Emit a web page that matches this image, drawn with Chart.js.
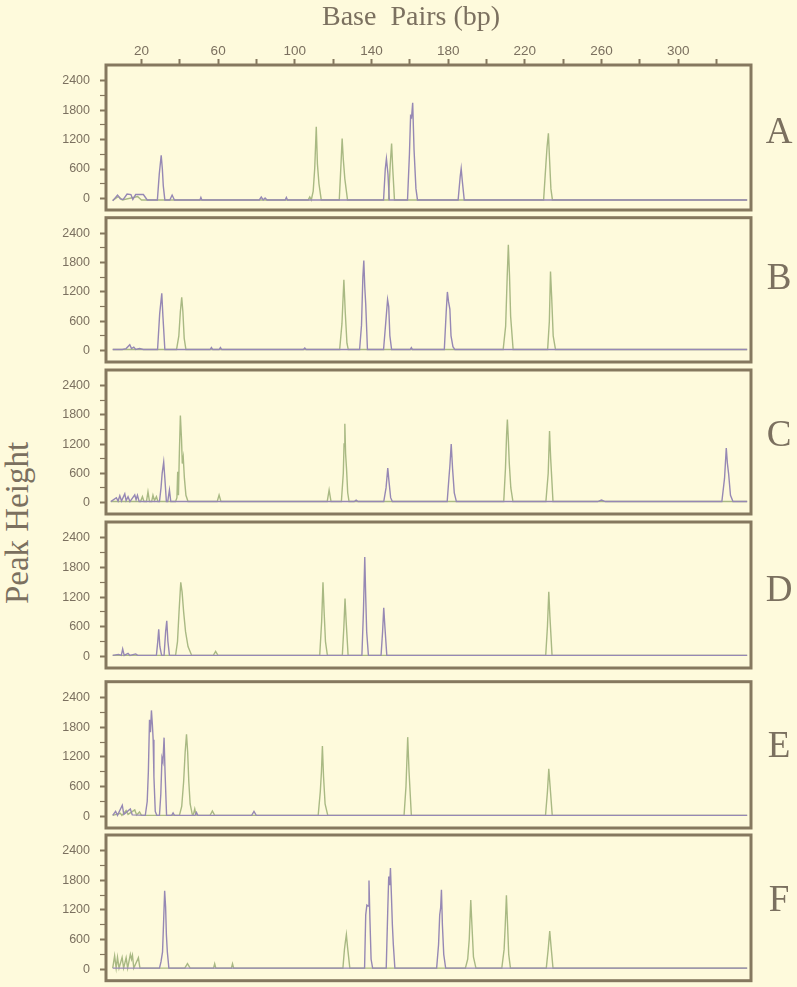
<!DOCTYPE html>
<html>
<head>
<meta charset="utf-8">
<title>Peak Height vs Base Pairs</title>
<script src="https://cdn.jsdelivr.net/npm/chart.js@4.4.0/dist/chart.umd.min.js"></script>
<style>
  html, body { margin: 0; padding: 0; background: #fefadc; }
  #page { position: relative; width: 797px; height: 987px; overflow: hidden; background: #fefadc; }
  #page canvas { position: absolute; left: 0; }
  .letter {
    position: absolute; left: 749px; width: 60px; text-align: center;
    font-family: 'Liberation Serif', 'DejaVu Serif', serif; font-size: 37px;
    line-height: 1; color: #7b705f;
  }
  #yTitle {
    position: absolute; left: 17px; top: 523px; white-space: nowrap;
    transform: translate(-50%, -50%) rotate(-90deg);
    font-family: 'Liberation Serif', 'DejaVu Serif', serif; font-size: 33px;
    line-height: 1; color: #7b705f;
  }
</style>
</head>
<body>
<div id="page">
  <div id="yTitle">Peak Height</div>
</div>

<script>
// axis ticks (bp on top, peak height on the left)
const xTickValues = [20, 40, 60, 80, 100, 120, 140, 160, 180, 200, 220, 240, 260, 280, 300, 320];
const xTickLabels = [20, 60, 100, 140, 180, 220, 260, 300];
const yTickValues = [0, 300, 600, 900, 1200, 1500, 1800, 2100, 2400];
const yTickLabels = [0, 600, 1200, 1800, 2400];
const panelLetters = ['A', 'B', 'C', 'D', 'E', 'F'];

// traces: [base pairs, peak height]
const purpleA = [[5,-50],[7.5,70],[9,-10],[10.5,-20],[12.5,90],[14.5,80],[15.5,-20],[17,80],[21,80],[23,-30],[28.3,-30],[29.3,500],[30.3,880],[30.9,600],[31.4,250],[32.2,-30],[34.8,-30],[36,70],[37.2,-30],[50.5,-30],[51,20],[51.5,-30],[81.5,-30],[82.5,30],[83.5,-30],[84.5,10],[85.5,-30],[95,-30],[95.6,20],[96.2,-30],[146.3,-30],[147.2,600],[147.8,810],[148.6,500],[149.3,-30],[158.8,-30],[159.8,900],[160.4,1680],[160.9,1650],[161.5,1950],[162.2,1000],[163.2,200],[164,-30],[185.2,-30],[186.3,450],[186.8,610],[187.4,350],[188.4,-30],[336,-30]];
const greenA = [[5,-40],[8,40],[10,-30],[18,40],[20,-30],[107,-30],[107.8,30],[108.6,-30],[109.6,150],[110.4,620],[111.2,1460],[111.8,700],[112.6,300],[113.8,-30],[123.2,-30],[124.1,700],[124.7,1220],[125.3,800],[126.1,400],[127.5,-30],[148.9,-30],[149.8,700],[150.5,1120],[151.1,600],[152,-30],[229.8,-30],[231,700],[231.6,1050],[232.3,1330],[232.9,800],[233.6,200],[234.4,-30],[336,-30]];

const purpleB = [[5,20],[10,20],[12,40],[13.9,120],[14.8,40],[16,70],[17,20],[19,40],[21,20],[28.4,20],[29.5,750],[30.6,1170],[31.2,700],[32.2,20],[55.8,20],[56.5,60],[57.2,20],[60.5,20],[61.2,60],[61.9,20],[104.5,20],[105.2,50],[105.9,20],[133.8,20],[134.8,520],[135.5,1500],[136,1845],[136.5,1300],[137,950],[137.9,20],[146.3,20],[147.4,550],[148.4,1045],[149,900],[149.6,300],[150.5,20],[160.2,20],[160.8,60],[161.4,20],[178,20],[179,800],[179.6,1200],[180.2,1000],[180.9,850],[181.5,300],[182.5,80],[183.5,20],[336,20]];
const greenB = [[5,20],[38.3,20],[39.5,300],[40.3,800],[41,1090],[41.6,800],[42.3,250],[43.2,20],[123.4,20],[124.6,550],[125.6,1450],[126.3,800],[127.2,150],[127.9,20],[208.7,20],[210,500],[210.8,1500],[211.4,2165],[212,1550],[212.6,700],[213.9,20],[231.9,20],[232.8,600],[233.4,1620],[234,1100],[234.8,300],[236,20],[336,20]];

const purpleC = [[4,20],[6.9,100],[7.8,30],[8.7,140],[9.6,30],[11.3,180],[12,40],[13,120],[14,20],[16.5,160],[17.2,60],[17.9,150],[18.8,20],[29.4,20],[30.2,300],[30.8,600],[31.6,830],[32.2,500],[33,20],[33.7,20],[34.6,256],[35.3,20],[131,20],[132,50],[133,20],[146.4,20],[147.6,300],[148.5,707],[149.1,450],[150,100],[150.9,20],[179.5,20],[180.4,500],[180.9,750],[181.6,1200],[182.3,700],[183.2,200],[184.3,20],[258,20],[260,50],[262,20],[322.8,20],[324.2,500],[325.1,1120],[325.7,800],[326.3,600],[327.3,150],[328.6,20],[336,20]];
const greenC = [[4,20],[19.5,20],[20.5,120],[21.3,20],[22.6,20],[23.4,220],[24.2,20],[25.3,20],[26,150],[26.8,40],[27.8,120],[28.6,20],[37.8,20],[38.5,100],[38.9,630],[39.3,150],[39.7,900],[40.3,1785],[40.9,1300],[41.3,800],[41.8,930],[42.4,500],[43.2,150],[44.3,20],[59.5,20],[60.5,155],[61.5,20],[116.9,20],[117.9,256],[118.9,20],[124.3,20],[125.3,600],[125.7,1200],[126.1,1615],[126.5,1000],[127,680],[127.6,200],[128.3,20],[209,20],[209.9,700],[210.5,1400],[210.9,1705],[211.4,1300],[211.9,800],[212.7,300],[213.8,20],[231,20],[232.2,600],[232.9,1470],[233.5,900],[234.7,20],[336,20]];

const purpleD = [[5,20],[8,40],[9.5,20],[10.2,150],[11,20],[13,60],[14,20],[17,50],[18,20],[27.8,20],[28.5,300],[29,550],[29.6,200],[30.5,20],[31.8,20],[32.6,500],[33.2,720],[33.8,300],[34.6,20],[135,20],[135.8,900],[136.5,2010],[137,1200],[137.5,500],[138.4,20],[145,20],[145.8,500],[146.4,985],[147,600],[148,20],[336,20]];
const greenD = [[5,20],[37.8,20],[38.8,300],[39.6,900],[40.5,1500],[41.2,1300],[42,900],[43,500],[44.3,200],[46.2,20],[57.5,20],[58.7,100],[59.9,20],[113,20],[114,700],[114.7,1500],[115.3,900],[116,300],[117,20],[124.8,20],[125.6,600],[126.2,1170],[126.8,700],[127.8,20],[230.9,20],[231.8,600],[232.5,1310],[233.1,800],[234.2,20],[336,20]];

const purpleE = [[5,20],[6.5,100],[7.5,20],[10,225],[10.8,40],[14.2,150],[15.2,30],[22,20],[23,300],[23.6,900],[24.2,1950],[24.7,1700],[25.2,2140],[25.7,1850],[26.1,1550],[26.5,800],[27.2,100],[28,20],[29.4,20],[30.1,450],[30.7,1180],[31.2,1100],[31.8,1590],[32.3,900],[33.1,20],[35.8,20],[36.5,70],[37.2,20],[48,20],[48.7,80],[49.4,20],[77.5,20],[78.7,100],[79.9,20],[336,20]];
const greenE = [[5,20],[9,60],[9.8,20],[12,120],[13,40],[16.5,130],[17.5,30],[19,90],[20,20],[39.8,20],[41,200],[42,700],[42.8,1300],[43.5,1660],[44.1,1300],[44.7,700],[45.4,250],[46.6,20],[47,20],[47.8,150],[48.5,20],[55.8,20],[57,110],[58.2,20],[112.2,20],[113.3,500],[113.9,900],[114.4,1420],[115,800],[115.8,250],[117.2,20],[157,20],[158,600],[158.9,1600],[159.6,900],[160.8,20],[230.8,20],[231.8,500],[232.5,960],[233.2,600],[234.3,20],[336,20]];

const purpleF = [[5,20],[29.4,20],[30.2,150],[31,350],[31.5,900],[32.1,1590],[32.6,1260],[33,700],[33.5,350],[34.3,20],[136.4,20],[137,1100],[137.6,1300],[138.2,1280],[138.7,1795],[139.2,1000],[139.8,200],[140.6,20],[147.7,20],[148.5,1200],[149,1880],[149.5,1700],[149.9,2050],[150.4,1500],[150.9,900],[151.4,500],[152.2,20],[174,20],[175,500],[175.6,1100],[176.1,1250],[176.5,1607],[177,900],[177.7,300],[178.7,20],[336,20]];
const greenF = [[5,20],[6,270],[6.8,20],[7.5,240],[8.3,20],[9.9,240],[10.7,20],[12,230],[12.8,20],[14.2,300],[14.8,200],[15.3,280],[16,20],[18.4,230],[19.2,20],[42.6,20],[44,110],[45.4,20],[57.6,20],[58.2,110],[58.8,20],[66.9,20],[67.5,110],[68.1,20],[125.1,20],[125.9,400],[126.4,560],[126.9,700],[127.5,450],[128.7,20],[189,20],[190.2,200],[191,600],[191.8,1400],[192.4,900],[193.2,250],[194.5,20],[208,20],[209.2,400],[209.8,900],[210.4,1500],[211,900],[211.6,300],[212.5,20],[231.2,20],[232.2,400],[233,770],[233.7,450],[234.7,20],[336,20]];

const traces = [
  [purpleA, greenA], [purpleB, greenB], [purpleC, greenC],
  [purpleD, greenD], [purpleE, greenE], [purpleF, greenF]
];

// layout of the six stacked panels (page pixels)
const panelBoxes = [
  { top: 65, bottom: 210, letterY: 131 },
  { top: 217.7, bottom: 362, letterY: 276.3 },
  { top: 370, bottom: 514, letterY: 433.3 },
  { top: 522, bottom: 668, letterY: 589 },
  { top: 681.7, bottom: 828, letterY: 745 },
  { top: 835, bottom: 980.7, letterY: 899 }
];
const pageWidth = 797;
const plotLeft = 106;
const plotRight = 751;

const textColor = '#7b705f';
const frameColor = '#85785f';
const purpleColor = '#9688b4';
const greenColor = '#a9b983';

const framePlugin = {
  id: 'panelFrame',
  afterDraw(chart) {
    const { ctx, chartArea } = chart;
    ctx.save();
    ctx.strokeStyle = frameColor;
    ctx.lineWidth = 3;
    ctx.strokeRect(chartArea.left, chartArea.top,
      chartArea.right - chartArea.left, chartArea.bottom - chartArea.top);
    ctx.restore();
  }
};

const page = document.getElementById('page');

function toPoints(pairs) {
  return pairs.map(([bp, height]) => ({ x: bp, y: height }));
}

// the panels are placed by hand, so scales must not ask for extra room
function noScalePadding(scale) {
  scale.paddingTop = 0;
  scale.paddingBottom = 0;
  scale.paddingLeft = 0;
  scale.paddingRight = 0;
}

function buildPanel(index) {
  const box = panelBoxes[index];
  const isTop = index === 0;
  const canvasTop = isTop ? 0 : Math.floor(box.top) - 5;
  const canvasBottom = Math.ceil(box.bottom) + 5;
  const titleHeight = 28 * 1.2 + 1;
  // panel A carries the title; an empty right axis keeps it centred like the original
  const padLeft = isTop ? 25 : 0;
  const padRight = isTop ? 0 : pageWidth - plotRight;

  const canvas = document.createElement('canvas');
  canvas.width = pageWidth;
  canvas.height = canvasBottom - canvasTop;
  canvas.style.top = canvasTop + 'px';
  page.appendChild(canvas);

  const letter = document.createElement('div');
  letter.className = 'letter';
  letter.textContent = panelLetters[index];
  letter.style.top = (box.letterY - 18.7) + 'px';
  page.appendChild(letter);

  const [purple, green] = traces[index];

  const scales = {
    x: {
      type: 'linear',
      position: 'top',
      min: 1.5,
      max: 338,
      display: isTop,
      afterFit: (scale) => {
        scale.height = isTop ? box.top - titleHeight : 0;
        noScalePadding(scale);
      },
      afterBuildTicks: (scale) => { scale.ticks = xTickValues.map(v => ({ value: v })); },
      ticks: {
        autoSkip: false,
        maxRotation: 0,
        padding: 1,
        color: textColor,
        font: { family: "'Liberation Sans', Arial, sans-serif", size: 13.5, lineHeight: 1 },
        callback: (value) => xTickLabels.includes(value) ? String(value) : ''
      },
      grid: { drawOnChartArea: false, drawTicks: true, tickLength: 6, tickColor: frameColor, tickWidth: 2 },
      border: { display: false }
    },
    y: {
      type: 'linear',
      min: -235,
      max: 2720,
      afterFit: (scale) => {
        scale.width = plotLeft - padLeft;
        noScalePadding(scale);
      },
      afterBuildTicks: (scale) => { scale.ticks = yTickValues.map(v => ({ value: v })); },
      ticks: {
        autoSkip: false,
        padding: 10,
        color: textColor,
        font: { family: "'Liberation Sans', Arial, sans-serif", size: 12.5 },
        callback: (value) => yTickLabels.includes(value) ? String(value) : ''
      },
      grid: {
        drawOnChartArea: false,
        drawTicks: true,
        tickLength: 6,
        tickColor: frameColor,
        tickWidth: (ctx) => yTickLabels.includes(ctx.tick.value) ? 2 : 1.2
      },
      border: { display: false }
    }
  };
  if (isTop) {
    scales.yRight = {
      type: 'linear',
      position: 'right',
      min: -235,
      max: 2720,
      afterFit: (scale) => {
        scale.width = pageWidth - plotRight;
        noScalePadding(scale);
      },
      ticks: { display: false },
      grid: { display: false },
      border: { display: false }
    };
  }

  new Chart(canvas, {
    type: 'line',
    data: {
      datasets: [
        { data: toPoints(purple), borderColor: purpleColor, borderWidth: 1.4, pointRadius: 0, tension: 0, fill: false },
        { data: toPoints(green), borderColor: greenColor, borderWidth: 1.4, pointRadius: 0, tension: 0, fill: false }
      ]
    },
    options: {
      responsive: false,
      animation: false,
      events: [],
      layout: {
        autoPadding: false,
        padding: {
          left: padLeft,
          right: padRight,
          top: isTop ? 0 : box.top - canvasTop,
          bottom: canvasBottom - box.bottom
        }
      },
      plugins: {
        legend: { display: false },
        tooltip: { enabled: false },
        title: {
          display: isTop,
          text: 'Base  Pairs (bp)',
          color: textColor,
          font: { family: "'Liberation Serif', 'DejaVu Serif', serif", size: 28, weight: 'normal', lineHeight: 1.2 },
          padding: { top: 1, bottom: 0 }
        }
      },
      scales
    },
    plugins: [framePlugin]
  });
}

panelBoxes.forEach((box, i) => buildPanel(i));
</script>
</body>
</html>
